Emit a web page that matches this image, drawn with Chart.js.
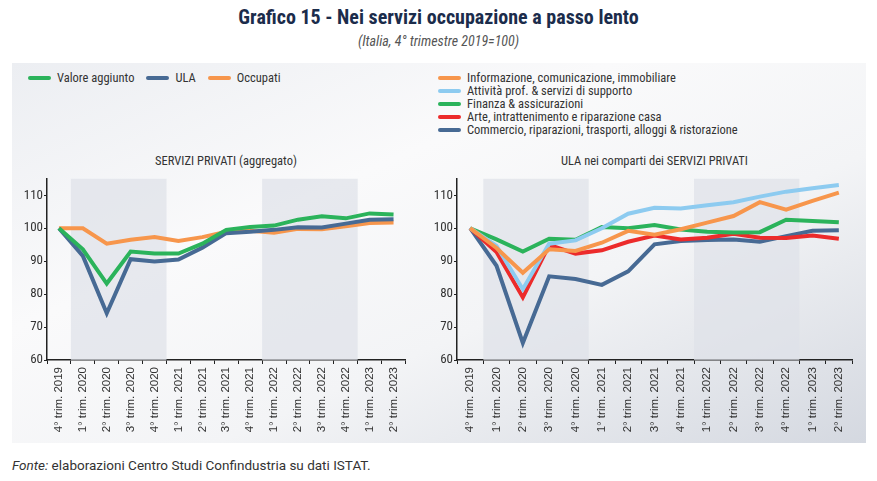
<!DOCTYPE html>
<html>
<head>
<meta charset="utf-8">
<script src="https://cdn.jsdelivr.net/npm/chart.js@4.4.0/dist/chart.umd.min.js"></script>
<style>
    body { margin: 0; background: #fff; width: 877px; height: 481px; position: relative; overflow: hidden;
           font-family: "Roboto Condensed", "Liberation Sans Narrow", "DejaVu Sans Condensed", sans-serif; }
    .title { position: absolute; top: 5px; left: 0; width: 877px; text-align: center; font-size: 20px; font-weight: bold; color: #1b2c4b; }
    .subtitle { position: absolute; top: 33px; left: 0; width: 877px; text-align: center; font-size: 14px; font-style: italic; color: #555; }
    .panel { position: absolute; left: 12px; top: 63px; width: 854px; height: 380px;
             background: linear-gradient(to bottom right, #eceef2 0%, #fafafb 35%, #f3f4f6 62%, #d4d8e0 100%); }
    .chart-title { position: absolute; top: 153px; font-size: 12.5px; color: #333; text-align: center; }
    .legend { position: absolute; font-size: 12.5px; color: #333; }
    .legend .item { display: flex; align-items: center; white-space: nowrap; }
    .legend .sw { display: inline-block; width: 23px; height: 4px; border-radius: 2px; margin-right: 6px; }
    #legendLeft { left: 28px; top: 70px; display: flex; }
    #legendLeft .item { margin-right: 12px; }
    #legendRight { left: 438px; top: 71px; line-height: 13px; }
    .source { position: absolute; left: 12px; top: 457px; font-family: Roboto, sans-serif; font-size: 13.5px; color: #333; }
    canvas { position: absolute; }
</style>
</head>
<body>
<div class="title">Grafico 15 - Nei servizi occupazione a passo lento</div>
<div class="subtitle">(Italia, 4° trimestre 2019=100)</div>
<div class="panel"></div>
<div class="legend" id="legendLeft"></div>
<div class="legend" id="legendRight"></div>
<div class="chart-title" style="left:47px;width:358px;">SERVIZI PRIVATI (aggregato)</div>
<div class="chart-title" style="left:457px;width:395px;">ULA nei comparti dei SERVIZI PRIVATI</div>
<canvas id="leftChart" width="420" height="275" style="left:0;top:170px;"></canvas>
<canvas id="rightChart" width="460" height="275" style="left:410px;top:170px;"></canvas>
<div class="source"><i>Fonte:</i> elaborazioni Centro Studi Confindustria su dati ISTAT.</div>

<script>
const quarters = ['4° trim. 2019', '1° trim. 2020', '2° trim. 2020', '3° trim. 2020', '4° trim. 2020',
    '1° trim. 2021', '2° trim. 2021', '3° trim. 2021', '4° trim. 2021', '1° trim. 2022',
    '2° trim. 2022', '3° trim. 2022', '4° trim. 2022', '1° trim. 2023', '2° trim. 2023'];

// shaded years (category index ranges)
const shadedRanges = [[1, 4], [9, 12]];

// left panel: aggregate private services
const valoreAggiunto = [100, 93.6, 83.2, 92.9, 92.3, 92.3, 95.3, 99.5, 100.4, 100.8, 102.6, 103.6, 103.0, 104.5, 104.2];
const ula = [100, 91.6, 74.2, 90.6, 89.9, 90.5, 94.1, 98.5, 98.9, 99.5, 100.3, 100.2, 101.4, 102.6, 102.7];
const occupati = [100, 100, 95.3, 96.5, 97.3, 96.1, 97.3, 98.9, 99.2, 98.6, 99.8, 99.7, 100.6, 101.6, 101.7];

// right panel: ULA by sector
const informazione = [100, 94.0, 86.5, 93.6, 93.1, 95.6, 99.2, 98.0, 99.7, 101.7, 103.7, 107.9, 105.6, 108.3, 110.8];
const attivitaProf = [100, 94.6, 81.5, 95.3, 96.3, 100.0, 104.4, 106.2, 106.0, 107.0, 107.9, 109.6, 111.1, 112.1, 113.1];
const finanza = [100, 96.6, 92.9, 96.8, 96.5, 100.4, 100.0, 101.0, 99.6, 98.9, 98.7, 98.8, 102.6, 102.2, 101.8];
const arte = [100, 92.8, 79.0, 94.9, 92.3, 93.3, 95.9, 97.8, 96.6, 97.1, 98.3, 97.1, 97.0, 97.8, 96.8];
const commercio = [100, 88.6, 65.2, 85.4, 84.6, 82.8, 86.9, 95.1, 96.1, 96.4, 96.6, 95.9, 97.6, 99.2, 99.4];

const yTicks = [60, 70, 80, 90, 100, 110];

const GREEN = '#2bb35b', NAVY = '#476a94', ORANGE = '#f7964c', LIGHTBLUE = '#8dcbf0', RED = '#ec2b2b';

function line(label, data, color) {
    return {
        label: label, data: data, borderColor: color, backgroundColor: color,
        borderWidth: 4, pointRadius: 0, tension: 0, fill: false
    };
}

const bandsPlugin = {
    id: 'bands',
    beforeDatasetsDraw(chart) {
        const ctx = chart.ctx;
        const x = chart.scales.x;
        const area = chart.chartArea;
        const half = (x.getPixelForValue(1) - x.getPixelForValue(0)) / 2;
        ctx.save();
        ctx.fillStyle = 'rgba(222, 225, 232, 0.7)';
        shadedRanges.forEach(([a, b]) => {
            const x0 = x.getPixelForValue(a) - half;
            const x1 = x.getPixelForValue(b) + half;
            ctx.fillRect(x0, area.top, x1 - x0, area.bottom - area.top);
        });
        ctx.restore();
    }
};

function makeChart(id, datasets, padRight) {
    return new Chart(document.getElementById(id), {
        type: 'line',
        data: { labels: quarters, datasets: datasets },
        plugins: [bandsPlugin],
        options: {
            responsive: false,
            animation: false,
            layout: { padding: { top: 7, right: padRight, left: 0, bottom: 0 } },
            plugins: { legend: { display: false }, tooltip: { enabled: false } },
            scales: {
                x: {
                    offset: true,
                    grid: { offset: true, drawOnChartArea: false, color: '#222', tickLength: 4 },
                    border: { color: '#222', width: 1.5 },
                    ticks: {
                        autoSkip: false, minRotation: 90, maxRotation: 90, padding: 3,
                        color: '#333', font: { family: '"Liberation Sans", Arial, sans-serif', size: 11.5 }
                    },
                    afterFit(scale) { scale.height = 85; }
                },
                y: {
                    min: 60, max: 115,
                    afterBuildTicks(scale) { scale.ticks = yTicks.map(v => ({ value: v })); },
                    grid: { drawOnChartArea: false, color: '#222', tickLength: 3 },
                    border: { color: '#222', width: 1.5 },
                    ticks: {
                        padding: 1, color: '#333',
                        font: { family: '"Roboto Condensed", "Liberation Sans Narrow", "DejaVu Sans Condensed", sans-serif', size: 13 }
                    },
                    afterFit(scale) { scale.width = 47; }
                }
            }
        }
    });
}

function buildLegend(el, chart) {
    chart.data.datasets.forEach(ds => {
        const item = document.createElement('div');
        item.className = 'item';
        const sw = document.createElement('span');
        sw.className = 'sw';
        sw.style.background = ds.borderColor;
        item.appendChild(sw);
        item.appendChild(document.createTextNode(ds.label));
        el.appendChild(item);
    });
}

const leftChart = makeChart('leftChart', [
    line('Valore aggiunto', valoreAggiunto, GREEN),
    line('ULA', ula, NAVY),
    line('Occupati', occupati, ORANGE)
], 14.5);

const rightChart = makeChart('rightChart', [
    line('Informazione, comunicazione, immobiliare', informazione, ORANGE),
    line('Attività prof. & servizi di supporto', attivitaProf, LIGHTBLUE),
    line('Finanza & assicurazioni', finanza, GREEN),
    line('Arte, intrattenimento e riparazione casa', arte, RED),
    line('Commercio, riparazioni, trasporti, alloggi & ristorazione', commercio, NAVY)
], 18);

buildLegend(document.getElementById('legendLeft'), leftChart);
buildLegend(document.getElementById('legendRight'), rightChart);
</script>
</body>
</html>
